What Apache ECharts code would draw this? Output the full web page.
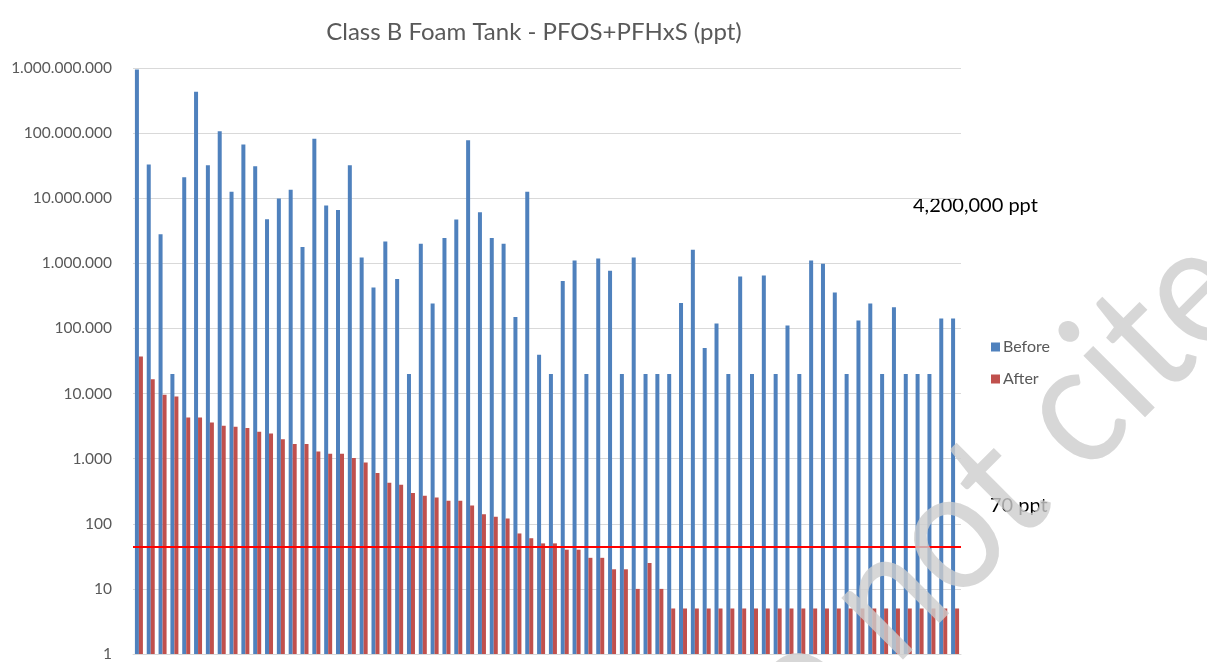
<!DOCTYPE html>
<html>
<head>
<meta charset="utf-8">
<title>Class B Foam Tank - PFOS+PFHxS (ppt)</title>
<script src="https://cdn.jsdelivr.net/npm/echarts@6/dist/echarts.min.js"></script>
<style>
  html, body { margin: 0; padding: 0; background: #fff; }
  #main { width: 1207px; height: 662px; }
</style>
</head>
<body>
<div id="main"></div>
<script>
// tank samples, one per category
const samples = [
  1, 2, 3, 4, 5, 6, 7, 8, 9, 10, 11, 12, 13, 14, 15, 16, 17, 18, 19, 20,
  21, 22, 23, 24, 25, 26, 27, 28, 29, 30, 31, 32, 33, 34, 35, 36, 37, 38, 39, 40,
  41, 42, 43, 44, 45, 46, 47, 48, 49, 50, 51, 52, 53, 54, 55, 56, 57, 58, 59, 60,
  61, 62, 63, 64, 65, 66, 67, 68, 69, 70
]

const before = [
  950000000, 33000000, 2800000, 20000, 21000000, 430000000, 32000000, 107000000, 12600000, 67000000,
  31000000, 4750000, 9900000, 13500000, 1780000, 82000000, 7700000, 6600000, 32000000, 1230000,
  425000, 2170000, 575000, 20000, 1990000, 242000, 2460000, 4700000, 78000000, 6100000,
  2460000, 1990000, 150000, 12600000, 39500, 20000, 537000, 1110000, 20000, 1190000,
  767000, 20000, 1230000, 20000, 20000, 20000, 245000, 1610000, 50000, 119000,
  20000, 625000, 20000, 650000, 20000, 111000, 20000, 1110000, 985000, 356000,
  20000, 132000, 242000, 20000, 211000, 20000, 20000, 20000, 142000, 142000
]

const after = [
  37000, 16600, 9600, 9000, 4300, 4300, 3600, 3200, 3100, 2950,
  2600, 2430, 1980, 1680, 1680, 1290, 1190, 1190, 1020, 870,
  600, 425, 396, 297, 270, 253, 225, 225, 191, 140,
  128, 120, 71, 60, 50, 50, 40, 40, 30, 30,
  20, 20, 10, 25, 10, 5, 5, 5, 5, 5,
  5, 5, 5, 5, 5, 5, 5, 5, 5, 5,
  5, 5, 5, 5, 5, 5, 5, 5, 5, 5
]

const yTicks = [1, 10, 100, 1000, 10000, 100000, 1000000, 10000000, 100000000, 1000000000]
const limitLine = 44

const font = 'Lato, "Open Sans", sans-serif'

const chart = echarts.init(document.getElementById('main'))

const option = {
  animation: false,
  textStyle: { fontFamily: font },
  title: {
    text: 'Class B Foam Tank - PFOS+PFHxS (ppt)',
    left: 529,
    top: 15,
    textAlign: 'center',
    textStyle: { fontSize: 24, fontWeight: 'normal', color: '#595959', fontFamily: font }
  },
  legend: {
    orient: 'vertical',
    left: 986,
    top: 334,
    itemWidth: 9,
    itemHeight: 9,
    itemGap: 16,
    icon: 'rect',
    textStyle: { fontSize: 16, color: '#595959', fontFamily: font, padding: [0, 0, 0, -2] },
    data: ['Before', 'After']
  },
  grid: {
    left: 133,
    right: 246,
    top: 68,
    bottom: 5
  },
  xAxis: {
    type: 'category',
    data: samples,
    axisLabel: { show: false },
    axisTick: { show: false },
    axisLine: { lineStyle: { color: '#d9d9d9' } }
  },
  yAxis: {
    type: 'log',
    logBase: 10,
    min: yTicks[0],
    max: yTicks[yTicks.length - 1],
    axisLine: { show: false },
    axisTick: { show: false },
    splitLine: { lineStyle: { color: '#d9d9d9', width: 1 } },
    axisLabel: {
      margin: 21,
      fontSize: 15.5,
      color: '#595959',
      fontFamily: font,
      formatter: v => String(Math.round(v)).replace(/\B(?=(\d{3})+(?!\d))/g, '.')
    }
  },
  series: [
    {
      name: 'Before',
      type: 'bar',
      data: before,
      barWidth: 4,
      barGap: '0%',
      itemStyle: { color: '#4f81bd' }
    },
    {
      name: 'After',
      type: 'bar',
      data: after,
      barWidth: 4,
      barGap: '0%',
      itemStyle: { color: '#c0504d' },
      markLine: {
        silent: true,
        symbol: 'none',
        label: { show: false },
        lineStyle: { color: '#ff0000', width: 2, type: 'solid' },
        data: [{ yAxis: limitLine }]
      }
    }
  ],
  graphic: [
    {
      type: 'text',
      left: 913,
      top: 196,
      style: { text: '4,200,000 ppt', fontSize: 20, fill: '#000', fontFamily: font }
    },
    {
      type: 'text',
      left: 990,
      top: 496,
      style: { text: '70 ppt', fontSize: 20, fill: '#000', fontFamily: font }
    },
    {
      type: 'text',
      x: 952,
      y: 532,
      rotation: Math.PI / 4,
      scaleX: 0.9,
      z: 100,
      silent: true,
      style: {
        text: 'Do not cite',
        fontSize: 172,
        fontFamily: font,
        fill: 'rgba(205,205,205,0.8)',
        align: 'center',
        verticalAlign: 'middle'
      }
    }
  ]
}

chart.setOption(option)
</script>
</body>
</html>
